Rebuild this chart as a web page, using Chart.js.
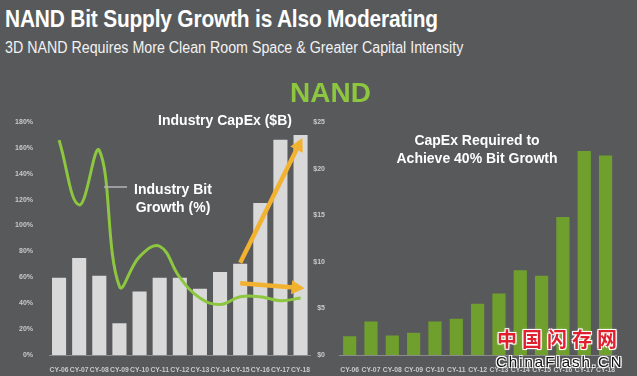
<!DOCTYPE html>
<html>
<head>
<meta charset="utf-8">
<script src="https://cdn.jsdelivr.net/npm/chart.js@4.4.1/dist/chart.umd.min.js"></script>
<style>
  html, body { margin: 0; padding: 0; }
  body { width: 637px; height: 376px; background: #58595b; position: relative; overflow: hidden; font-family: "Liberation Sans", Arial, sans-serif; }
  .abs { position: absolute; white-space: nowrap; }
  #title { left: 5px; top: 7px; font: bold 24px/24px "Liberation Sans", sans-serif; color: #fff; transform: scaleX(0.87); transform-origin: left top; letter-spacing: -0.2px; }
  #subtitle { left: 5px; top: 40px; font: 16px/16px "Liberation Sans", sans-serif; color: #f2f2f2; transform: scaleX(0.89); transform-origin: left top; }
  #nand { left: 290px; width: 80px; text-align: center; top: 79px; font: bold 28px/28px "Liberation Sans", sans-serif; color: #8dc63f; }
  #wmCn { left: 497px; top: 328px; font: bold 20px/22px "Noto Sans CJK SC", sans-serif; color: #e1202f; letter-spacing: 5px;
          text-shadow: -1px -1px 0 #fff, 1px -1px 0 #fff, -1px 1px 0 #fff, 1px 1px 0 #fff, 0 0 3px #fff; }
  #wmEn { left: 496px; top: 353px; font: 15px/18px "Liberation Sans", sans-serif; color: #111; letter-spacing: 2px;
          text-shadow: -1px -1px 0 #fff, 1px -1px 0 #fff, -1px 1px 0 #fff, 1px 1px 0 #fff, 0 0 2px #fff; }
  #leftWrap { position: absolute; left: 0; top: 100px; width: 313px; height: 276px; }
  #rightWrap { position: absolute; left: 300px; top: 100px; width: 318px; height: 276px; }
</style>
</head>
<body>
<div id="title" class="abs">NAND Bit Supply Growth is Also Moderating</div>
<div id="subtitle" class="abs">3D NAND Requires More Clean Room Space &amp; Greater Capital Intensity</div>
<div id="leftWrap"><canvas id="chart-left"></canvas></div>
<div id="rightWrap"><canvas id="chart-right"></canvas></div>
<div id="nand" class="abs">NAND</div>
<div id="wmCn" class="abs">中国闪存网</div>
<div id="wmEn" class="abs">ChinaFlash.CN</div>

<script>
const categories = ['CY-06', 'CY-07', 'CY-08', 'CY-09', 'CY-10', 'CY-11', 'CY-12', 'CY-13', 'CY-14', 'CY-15', 'CY-16', 'CY-17', 'CY-18'];

// Industry CapEx ($B) - grey bars
const industryCapex = [8.3, 10.4, 8.5, 3.4, 6.8, 8.3, 8.3, 7.1, 8.9, 9.8, 16.3, 23.1, 23.6];
// Industry bit growth (%) - green line
const bitGrowth = [166, 116, 158, 53, 76, 84, 60, 44, 39, 45, 45, 42, 44];
// CapEx required to achieve 40% bit growth ($B) - green bars
const capexRequired = [2.0, 3.6, 2.1, 2.4, 3.6, 3.9, 5.5, 6.6, 9.1, 8.5, 14.8, 21.9, 21.4];

// arrows (on $B scale), CY-15 -> CY-18
const arrowUp = [null, null, null, null, null, null, null, null, null, 9.9, null, null, 22.9];
const arrowFlat = [null, null, null, null, null, null, null, null, null, 7.7, null, null, 7.2];

const pctTicks = [0, 20, 40, 60, 80, 100, 120, 140, 160, 180];
const usdTicks = [0, 5, 10, 15, 20, 25];

const xTickFont = { family: '"Liberation Sans", Arial, sans-serif', size: 6.8, weight: 'bold' };
const yTickFont = { family: '"Liberation Sans", Arial, sans-serif', size: 7, weight: 'bold' };
const tickColor = '#c9c9c9';
const axisLine = '#8c8c8c';

// draws arrow heads and free text on the charts
const annotatePlugin = {
    id: 'annotate',
    afterDatasetsDraw(chart, args, opts) {
        const ctx = chart.ctx;
        ctx.save();
        chart.data.datasets.forEach((ds, i) => {
            if (!ds.arrow) return;
            const pts = chart.getDatasetMeta(i).data.filter((p, k) => ds.data[k] !== null);
            if (pts.length < 2) return;
            const a = pts[pts.length - 2], b = pts[pts.length - 1];
            const ang = Math.atan2(b.y - a.y, b.x - a.x);
            const len = 13, half = 7;
            const tx = b.x + Math.cos(ang) * 4, ty = b.y + Math.sin(ang) * 4;
            ctx.fillStyle = ds.borderColor;
            ctx.beginPath();
            ctx.moveTo(tx, ty);
            ctx.lineTo(tx - Math.cos(ang) * len + Math.sin(ang) * half, ty - Math.sin(ang) * len - Math.cos(ang) * half);
            ctx.lineTo(tx - Math.cos(ang) * len - Math.sin(ang) * half, ty - Math.sin(ang) * len + Math.cos(ang) * half);
            ctx.closePath();
            ctx.fill();
        });
        (opts.lines || []).forEach(l => {
            ctx.strokeStyle = l.color;
            ctx.lineWidth = l.width;
            ctx.beginPath();
            ctx.moveTo(l.x1, l.y1);
            ctx.lineTo(l.x2, l.y2);
            ctx.stroke();
        });
        ctx.fillStyle = '#ffffff';
        ctx.textAlign = 'center';
        ctx.textBaseline = 'middle';
        ctx.font = 'bold 14px "Liberation Sans", Arial, sans-serif';
        (opts.texts || []).forEach(t => ctx.fillText(t.text, t.x, t.y));
        ctx.restore();
    }
};

const chartLeft = new Chart(document.getElementById('chart-left').getContext('2d'), {
    type: 'bar',
    data: {
        labels: categories,
        datasets: [
            {
                label: 'Industry CapEx ($B)',
                data: industryCapex,
                backgroundColor: '#d9d9d9',
                barPercentage: 0.7,
                categoryPercentage: 1.0,
                yAxisID: 'y1',
                order: 3
            },
            {
                type: 'line',
                label: 'Industry Bit Growth (%)',
                data: bitGrowth,
                borderColor: '#8dc63f',
                borderWidth: 3,
                tension: 0.42,
                pointRadius: 0,
                yAxisID: 'y',
                order: 2
            },
            {
                type: 'line',
                data: arrowUp,
                borderColor: '#f2b230',
                borderWidth: 4.5,
                pointRadius: 0,
                spanGaps: true,
                arrow: true,
                yAxisID: 'y1',
                order: 1
            },
            {
                type: 'line',
                data: arrowFlat,
                borderColor: '#f2b230',
                borderWidth: 4.5,
                pointRadius: 0,
                spanGaps: true,
                arrow: true,
                yAxisID: 'y1',
                order: 1
            }
        ]
    },
    options: {
        responsive: true,
        maintainAspectRatio: false,
        animation: false,
        layout: { padding: { top: 22, right: 0, left: 0, bottom: 0 } },
        plugins: {
            legend: { display: false },
            tooltip: { enabled: false },
            annotate: {
                texts: [
                    { text: 'Industry CapEx ($B)', x: 225, y: 21 },
                    { text: 'Industry Bit', x: 173, y: 90 },
                    { text: 'Growth (%)', x: 173, y: 108 }
                ],
                lines: [{ x1: 104, y1: 87, x2: 127, y2: 87, color: '#b5b5b5', width: 1.5 }]
            }
        },
        scales: {
            x: {
                grid: { display: false },
                border: { color: axisLine, width: 1 },
                ticks: { color: tickColor, font: xTickFont, padding: 3, maxRotation: 0, autoSkip: false },
                afterFit: s => { s.height = 21; }
            },
            y: {
                min: 0,
                max: 180,
                grid: { display: false },
                border: { display: false },
                afterBuildTicks: s => { s.ticks = pctTicks.map(v => ({ value: v })); },
                ticks: { color: tickColor, font: yTickFont, padding: 8, callback: v => v + '%' },
                afterFit: s => { s.width = 49; }
            },
            y1: {
                min: 0,
                max: 25,
                display: false
            }
        }
    },
    plugins: [annotatePlugin]
});

const chartRight = new Chart(document.getElementById('chart-right').getContext('2d'), {
    type: 'bar',
    data: {
        labels: categories,
        datasets: [{
            label: 'CapEx Required to Achieve 40% Bit Growth',
            data: capexRequired,
            backgroundColor: '#6f9f2c',
            barPercentage: 0.62,
            categoryPercentage: 1.0
        }]
    },
    options: {
        responsive: true,
        maintainAspectRatio: false,
        animation: false,
        layout: { padding: { top: 22, right: 0, left: 0, bottom: 0 } },
        plugins: {
            legend: { display: false },
            tooltip: { enabled: false },
            annotate: {
                texts: [
                    { text: 'CapEx Required to', x: 177, y: 41 },
                    { text: 'Achieve 40% Bit Growth', x: 177, y: 59 }
                ]
            }
        },
        scales: {
            x: {
                grid: { display: false },
                border: { color: axisLine, width: 1 },
                ticks: { color: tickColor, font: xTickFont, padding: 3, maxRotation: 0, autoSkip: false },
                afterFit: s => { s.height = 21; }
            },
            y: {
                min: 0,
                max: 25,
                grid: { display: false },
                border: { display: false },
                afterBuildTicks: s => { s.ticks = usdTicks.map(v => ({ value: v })); },
                ticks: { color: tickColor, font: yTickFont, padding: 6, callback: v => '$' + v },
                afterFit: s => { s.width = 39; }
            }
        }
    },
    plugins: [annotatePlugin]
});
</script>
</body>
</html>
